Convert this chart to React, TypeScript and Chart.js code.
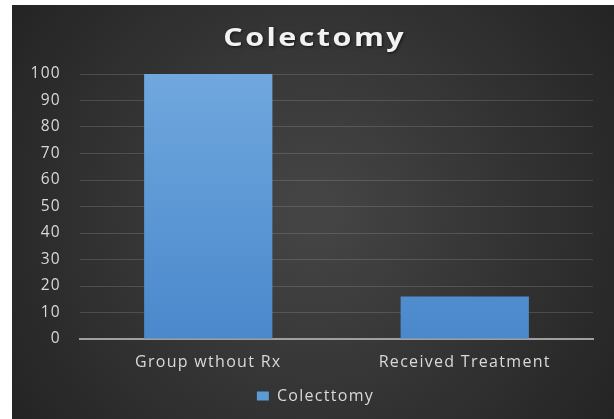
import React, { useEffect, useRef } from "react";
import { Chart, registerables } from "chart.js";

Chart.register(...registerables);

const categories = ["Group wthout Rx", "Received Treatment"];
const seriesName = "Colecttomy";
const seriesValues = [100, 16];
const chartTitle = "Colectomy";

const FONT = "'Open Sans', 'Liberation Sans', sans-serif";
const SPACING = "1.3px";

const bgPlugin = {
  id: "bgPlugin",
  beforeLayout(chart: any) {
    chart.ctx.letterSpacing = SPACING;
  },
  afterLayout(chart: any) {
    const lg = chart.legend;
    if (lg) {
      lg.left += 13;
      lg.right += 13;
    }
  },
  beforeDraw(chart: any) {
    const { ctx, width, height } = chart;
    ctx.letterSpacing = SPACING;
    ctx.save();
    const g = ctx.createRadialGradient(width / 2, height / 2, 20, width / 2, height / 2, Math.max(width, height) * 0.62);
    g.addColorStop(0, "#444444");
    g.addColorStop(1, "#232323");
    ctx.fillStyle = g;
    ctx.fillRect(0, 0, width, height);
    ctx.restore();
  },
  afterDraw(chart: any) {
    const { ctx } = chart;
    ctx.save();
    ctx.font = `bold 25px ${FONT}`;
    (ctx as any).letterSpacing = "2px";
    ctx.textAlign = "center";
    ctx.textBaseline = "middle";
    ctx.shadowColor = "rgba(0,0,0,0.6)";
    ctx.shadowBlur = 3;
    ctx.shadowOffsetX = 1;
    ctx.shadowOffsetY = 1;
    ctx.fillStyle = "#f2f2f2";
    ctx.translate(301.5 + 1.2, 34);
    ctx.scale(1.22, 1);
    ctx.fillText(chartTitle, 0, 0);
    ctx.restore();
  },
};

export default function App() {
  const ref = useRef<HTMLCanvasElement | null>(null);
  useEffect(() => {
    if (!ref.current) return;
    const chart = new Chart(ref.current, {
      type: "bar",
      data: {
        labels: categories,
        datasets: [
          {
            label: seriesName,
            data: seriesValues,
            backgroundColor: (c: any) => {
              const area = c.chart.chartArea;
              if (!area) return "#5b9bd5";
              const g = c.chart.ctx.createLinearGradient(0, area.top, 0, area.bottom);
              g.addColorStop(0, "#70a8de");
              g.addColorStop(1, "#4a88cc");
              return g;
            },
            categoryPercentage: 1,
            barPercentage: 0.5,
          },
        ],
      },
      options: {
        animation: false,
        responsive: true,
        maintainAspectRatio: false,
        layout: { padding: { left: 0, right: 21, top: 69, bottom: 5 } },
        plugins: {
          title: { display: false },
          tooltip: { enabled: false },
          legend: {
            position: "bottom",
            labels: {
              color: "#d9d9d9",
              boxWidth: 12,
              boxHeight: 9,
              padding: 10,
              font: { family: FONT, size: 16 },
              generateLabels: () => [
                {
                  text: seriesName,
                  fillStyle: "#5b9bd5",
                  strokeStyle: "#5b9bd5",
                  lineWidth: 0,
                  fontColor: "#d9d9d9",
                  datasetIndex: 0,
                },
              ],
            },
          },
        },
        scales: {
          x: {
            grid: { display: false },
            border: { color: "#a0a0a0", width: 2 },
            ticks: { color: "#d9d9d9", font: { family: FONT, size: 16 }, padding: 6 },
            afterFit: (s: any) => {
              s.height = 39;
            },
          },
          y: {
            min: 0,
            max: 100,
            ticks: { stepSize: 10, color: "#d9d9d9", font: { family: FONT, size: 15.5 }, padding: 19 },
            grid: { color: "rgba(255,255,255,0.14)", lineWidth: 1, drawTicks: false },
            border: { display: false },
            afterFit: (s: any) => {
              s.width = 68;
            },
          },
        },
      },
      plugins: [bgPlugin],
    });
    return () => chart.destroy();
  }, []);
  return (
    <div style={{ position: "absolute", left: 12, top: 5, width: 602, height: 414 }}>
      <canvas ref={ref} />
    </div>
  );
}
